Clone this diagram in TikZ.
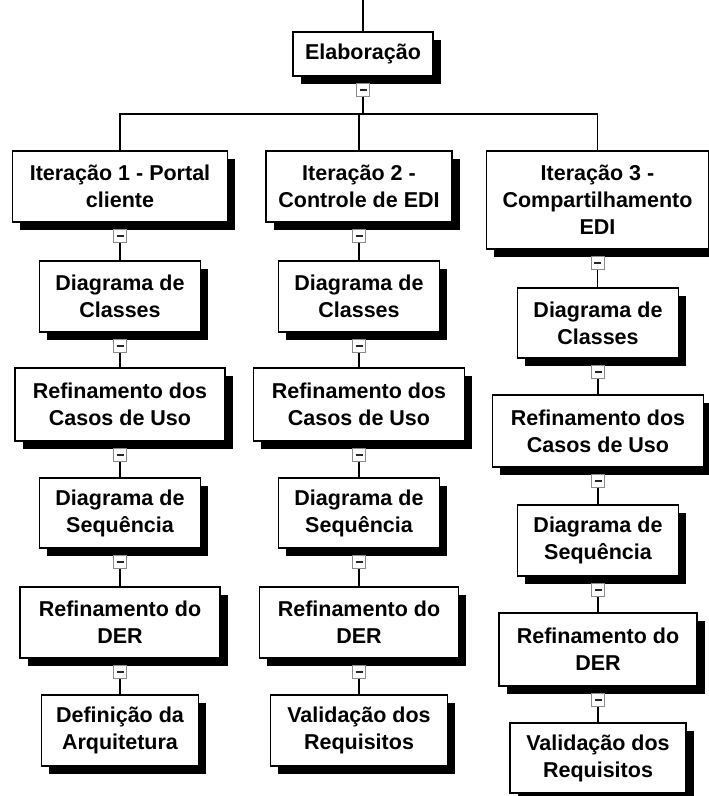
\documentclass[tikz,border=0pt]{standalone}
\usepackage{fontspec}
\setmainfont{Liberation Sans}
\usetikzlibrary{shadows}
\tikzset{
  box/.style={draw=black, line width=1.6pt, fill=white, align=center, inner sep=0pt,
    font=\bfseries\fontsize{21.5}{27}\selectfont,
    drop shadow={shadow xshift=7.5pt, shadow yshift=-7.5pt, fill=black, opacity=1}},
  mk/.style={draw=black!45, fill=white, line width=1pt, minimum size=13pt, inner sep=0pt,
    path picture={\draw[line width=1.6pt, black!85] ([xshift=3pt]path picture bounding box.west) -- ([xshift=-3pt]path picture bounding box.east);}},
  conn/.style={line width=1.5pt, black}
}
\begin{document}
\begin{tikzpicture}[x=1pt, y=-1pt]
\useasboundingbox (0,0) rectangle (709,796);
\clip (0,0) rectangle (709,796);
\fill[white] (0,0) rectangle (709,796);

% top
\coordinate (top) at (363,0);
\coordinate (bus) at (0,114);
\node[box, minimum width=140pt, minimum height=44pt] (elab) at (363,54) {Elaboração};

% iterations
\node[box, minimum width=215pt, minimum height=71pt] (i1) at (120,186.5) {Iteração 1 - Portal\\cliente};
\node[box, minimum width=186pt, minimum height=71pt] (i2) at (359,186.5) {Iteração 2 -\\Controle de EDI};
\node[box, minimum width=222pt, minimum height=98pt] (i3) at (597.5,200) {Iteração 3 -\\Compartilhamento\\EDI};

% column 1
\node[box, minimum width=161pt, minimum height=71pt] (a1) at (120,296.5) {Diagrama de\\Classes};
\node[box, minimum width=210pt, minimum height=73pt] (a2) at (120,404.5) {Refinamento dos\\Casos de Uso};
\node[box, minimum width=161pt, minimum height=70pt] (a3) at (120,513) {Diagrama de\\Sequência};
\node[box, minimum width=200pt, minimum height=71pt] (a4) at (120,622.5) {Refinamento do\\DER};
\node[box, minimum width=157pt, minimum height=71pt] (a5) at (120,730.5) {Definição da\\Arquitetura};

% column 2
\node[box, minimum width=161pt, minimum height=71pt] (b1) at (359,296.5) {Diagrama de\\Classes};
\node[box, minimum width=211pt, minimum height=73pt] (b2) at (359,404.5) {Refinamento dos\\Casos de Uso};
\node[box, minimum width=161pt, minimum height=70pt] (b3) at (359,513) {Diagrama de\\Sequência};
\node[box, minimum width=199pt, minimum height=71pt] (b4) at (359,622.5) {Refinamento do\\DER};
\node[box, minimum width=177pt, minimum height=71pt] (b5) at (359,730.5) {Validação dos\\Requisitos};

% column 3
\node[box, minimum width=161pt, minimum height=70pt] (c1) at (598,323) {Diagrama de\\Classes};
\node[box, minimum width=211pt, minimum height=72pt] (c2) at (598,431) {Refinamento dos\\Casos de Uso};
\node[box, minimum width=161pt, minimum height=71pt] (c3) at (598,540.5) {Diagrama de\\Sequência};
\node[box, minimum width=198pt, minimum height=73pt] (c4) at (598,649.5) {Refinamento do\\DER};
\node[box, minimum width=176pt, minimum height=70pt] (c5) at (598,758) {Validação dos\\Requisitos};

% collapse markers
\foreach \n in {elab,i1,i2,i3,a1,a2,a3,a4,b1,b2,b3,b4,c1,c2,c3,c4}
  \node[mk] (m\n) at ([yshift=-13pt]\n.south) {};

% connectors
\draw[conn] (top) -- (elab.north);
\draw[conn] (melab.south) -- (melab.south |- bus);
\draw[conn] (i1.north) -- (i1.north |- bus) -- (i3.north |- bus) -- (i3.north);
\draw[conn] (i2.north) -- (i2.north |- bus);
\draw[conn] (mi1.south) -- (a1.north);
\draw[conn] (ma1.south) -- (a2.north);
\draw[conn] (ma2.south) -- (a3.north);
\draw[conn] (ma3.south) -- (a4.north);
\draw[conn] (ma4.south) -- (a5.north);
\draw[conn] (mi2.south) -- (b1.north);
\draw[conn] (mb1.south) -- (b2.north);
\draw[conn] (mb2.south) -- (b3.north);
\draw[conn] (mb3.south) -- (b4.north);
\draw[conn] (mb4.south) -- (b5.north);
\draw[conn] (mi3.south) -- (mi3.south |- c1.north);
\draw[conn] (mc1.south) -- (c2.north);
\draw[conn] (mc2.south) -- (c3.north);
\draw[conn] (mc3.south) -- (c4.north);
\draw[conn] (mc4.south) -- (c5.north);
\end{tikzpicture}
\end{document}
